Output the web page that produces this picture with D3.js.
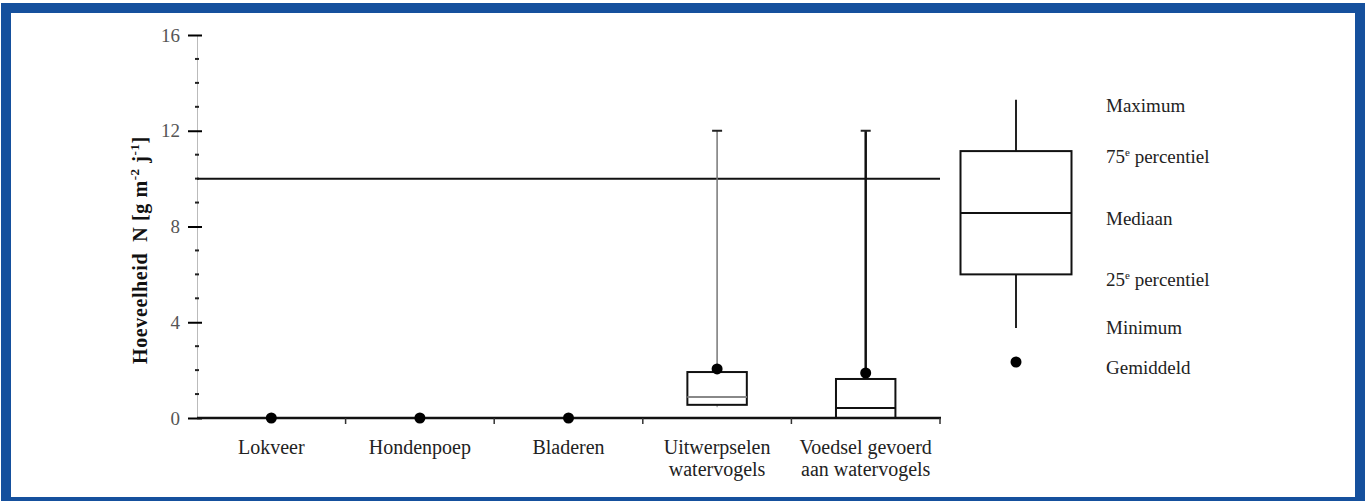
<!DOCTYPE html>
<html>
<head>
<meta charset="utf-8">
<script src="https://cdn.jsdelivr.net/npm/d3@7"></script>
<style>
  body { margin: 0; background: #fff; }
  svg text { font-family: "Liberation Serif", "DejaVu Serif", serif; }
</style>
</head>
<body>
<div id="vis"></div>
<script>
// categories (x axis), split in lines
var categories = ["Lokveer", "Hondenpoep", "Bladeren", "Uitwerpselen watervogels", "Voedsel gevoerd aan watervogels"];
var catLines = [["Lokveer"], ["Hondenpoep"], ["Bladeren"], ["Uitwerpselen", "watervogels"], ["Voedsel gevoerd", "aan watervogels"]];

// box plot statistics, g N m-2 j-1
var minVals = [0, 0, 0, 0.45, 0];
var q1Vals = [0, 0, 0, 0.55, 0];
var medVals = [0, 0, 0, 0.88, 0.42];
var q3Vals = [0, 0, 0, 1.92, 1.63];
var maxVals = [0, 0, 0, 12, 12];
var meanVals = [0, 0, 0, 2.05, 1.88];

// horizontal reference line
var refLine = 10;

// explanation box on the right
var legendLabels = ["Maximum", "75e percentiel", "Mediaan", "25e percentiel", "Minimum", "Gemiddeld"];
var legendVals = [13.3, 11.15, 8.56, 6.0, 3.76, 2.34];

var yTicks = [0, 4, 8, 12, 16];

var width = 1366, height = 501;

var svg = d3.select("#vis").append("svg")
    .attr("width", width)
    .attr("height", height);

// blue frame
svg.append("rect")
    .attr("x", 6).attr("y", 8)
    .attr("width", 1354).attr("height", 494)
    .attr("fill", "#fff")
    .attr("stroke", "#15509d")
    .attr("stroke-width", 10);

var y = d3.scaleLinear().domain([0, 16]).range([418, 35]);
var x = d3.scaleBand().domain(categories).range([197, 940]).padding(0);

// y axis: major ticks
var yAxis = svg.append("g")
    .attr("transform", "translate(197,0)")
    .call(d3.axisLeft(y).tickValues(yTicks).tickSize(8).tickPadding(9));
yAxis.select(".domain").attr("stroke", "#bbb").attr("stroke-width", 1);
yAxis.selectAll(".tick line").attr("x1", 5).attr("x2", -9).attr("stroke-width", 2);
yAxis.selectAll(".tick text")
    .attr("font-size", 19)
    .attr("fill", "#555")
    .style("font-family", "Liberation Serif, serif");

// minor ticks
var minor = d3.range(0, 17).filter(function(d) { return d % 4 != 0; });
svg.append("g").selectAll("line")
    .data(minor)
    .enter().append("line")
    .attr("x1", 195).attr("x2", 199)
    .attr("y1", function(d) { return y(d); })
    .attr("y2", function(d) { return y(d); })
    .attr("stroke", "#222")
    .attr("stroke-width", 2);

// y axis title
svg.append("text")
    .attr("transform", "translate(147," + 250 + ") rotate(-90)")
    .attr("text-anchor", "middle")
    .attr("font-size", 20)
    .attr("letter-spacing", 0.6)
    .attr("font-weight", "bold")
    .attr("fill", "#111")
    .html('Hoeveelheid&#160; N [g m<tspan dy="-8" font-size="13">-2</tspan><tspan dy="8"> j</tspan><tspan dy="-8" font-size="13">-1</tspan><tspan dy="8">]</tspan>');

// reference line
svg.append("line")
    .attr("x1", 197).attr("x2", 940)
    .attr("y1", y(refLine)).attr("y2", y(refLine))
    .attr("stroke", "#111")
    .attr("stroke-width", 2);

// x axis
svg.append("line")
    .attr("x1", 197).attr("x2", 941)
    .attr("y1", y(0)).attr("y2", y(0))
    .attr("stroke", "#111")
    .attr("stroke-width", 2.5);

var bounds = categories.map(function(c) { return x(c) + x.bandwidth(); });
svg.append("g").selectAll("line")
    .data(bounds)
    .enter().append("line")
    .attr("x1", function(d) { return d; })
    .attr("x2", function(d) { return d; })
    .attr("y1", y(0)).attr("y2", y(0) + 6)
    .attr("stroke", "#333")
    .attr("stroke-width", 1.5);

var labels = svg.append("g").selectAll("text")
    .data(catLines)
    .enter().append("text")
    .attr("text-anchor", "middle")
    .attr("font-size", 20)
    .attr("fill", "#222")
    .attr("x", function(d, i) { return x(categories[i]) + x.bandwidth() / 2; })
    .attr("y", 454);
labels.selectAll("tspan")
    .data(function(d) { return d; })
    .enter().append("tspan")
    .attr("x", function() { return d3.select(this.parentNode).attr("x"); })
    .attr("dy", function(d, i) { return i == 0 ? 0 : 22; })
    .text(function(d) { return d; });

// boxes
var bw = x.bandwidth() * 0.4;
var boxes = svg.append("g").selectAll("g")
    .data(categories)
    .enter().append("g")
    .attr("transform", function(d) { return "translate(" + (x(d) + x.bandwidth() / 2) + ",0)"; });

boxes.append("line")
    .attr("y1", function(d, i) { return y(maxVals[i]); })
    .attr("y2", function(d, i) { return y(q3Vals[i]); })
    .attr("stroke", function(d, i) { return i == 3 ? "#777" : "#111"; })
    .attr("stroke-width", function(d, i) { return i == 3 ? 1.5 : 2.5; });
boxes.filter(function(d, i) { return maxVals[i] > 0; }).append("line")
    .attr("x1", -5).attr("x2", 5)
    .attr("y1", function(d) { return y(maxVals[categories.indexOf(d)]); })
    .attr("y2", function(d) { return y(maxVals[categories.indexOf(d)]); })
    .attr("stroke", "#222").attr("stroke-width", 2);
boxes.append("line")
    .attr("y1", function(d, i) { return y(q1Vals[i]); })
    .attr("y2", function(d, i) { return y(minVals[i]); })
    .attr("stroke", "#888").attr("stroke-width", 1);
boxes.filter(function(d, i) { return q3Vals[i] > 0; }).append("rect")
    .attr("x", -bw / 2).attr("width", bw)
    .attr("y", function(d) { return y(q3Vals[categories.indexOf(d)]); })
    .attr("height", function(d) { var i = categories.indexOf(d); return y(q1Vals[i]) - y(q3Vals[i]); })
    .attr("fill", "none").attr("stroke", "#111").attr("stroke-width", 2);
boxes.filter(function(d, i) { return q3Vals[i] > 0; }).append("line")
    .attr("x1", -bw / 2).attr("x2", bw / 2)
    .attr("y1", function(d) { return y(medVals[categories.indexOf(d)]); })
    .attr("y2", function(d) { return y(medVals[categories.indexOf(d)]); })
    .attr("stroke", function(d) { return categories.indexOf(d) == 3 ? "#888" : "#111"; })
    .attr("stroke-width", 2);
boxes.append("circle")
    .attr("r", 5.5)
    .attr("cy", function(d, i) { return y(meanVals[i]); })
    .attr("fill", "#000");

// explanation box
var lx = 1016, lw = 111;
var leg = svg.append("g");
leg.append("line")
    .attr("x1", lx).attr("x2", lx)
    .attr("y1", y(legendVals[0])).attr("y2", y(legendVals[1]))
    .attr("stroke", "#222").attr("stroke-width", 2);
leg.append("line")
    .attr("x1", lx).attr("x2", lx)
    .attr("y1", y(legendVals[3])).attr("y2", y(legendVals[4]))
    .attr("stroke", "#222").attr("stroke-width", 2);
leg.append("rect")
    .attr("x", lx - lw / 2).attr("width", lw)
    .attr("y", y(legendVals[1]))
    .attr("height", y(legendVals[3]) - y(legendVals[1]))
    .attr("fill", "none").attr("stroke", "#111").attr("stroke-width", 2);
leg.append("line")
    .attr("x1", lx - lw / 2).attr("x2", lx + lw / 2)
    .attr("y1", y(legendVals[2])).attr("y2", y(legendVals[2]))
    .attr("stroke", "#111").attr("stroke-width", 2);
leg.append("circle")
    .attr("cx", lx).attr("cy", y(legendVals[5]))
    .attr("r", 5.5).attr("fill", "#000");

leg.selectAll("text.lab")
    .data(legendLabels)
    .enter().append("text")
    .attr("class", "lab")
    .attr("x", 1106)
    .attr("y", function(d, i) { return y(legendVals[i]) + (i == 4 ? 6 : 12); })
    .attr("font-size", 19)
    .attr("fill", "#222")
    .html(function(d) {
      if (d.indexOf("e ") == 2) {
        return d.slice(0, 2) + '<tspan dy="-7" font-size="11">e</tspan><tspan dy="7">' + d.slice(3) + '</tspan>';
      }
      return d;
    });
</script>
</body>
</html>
